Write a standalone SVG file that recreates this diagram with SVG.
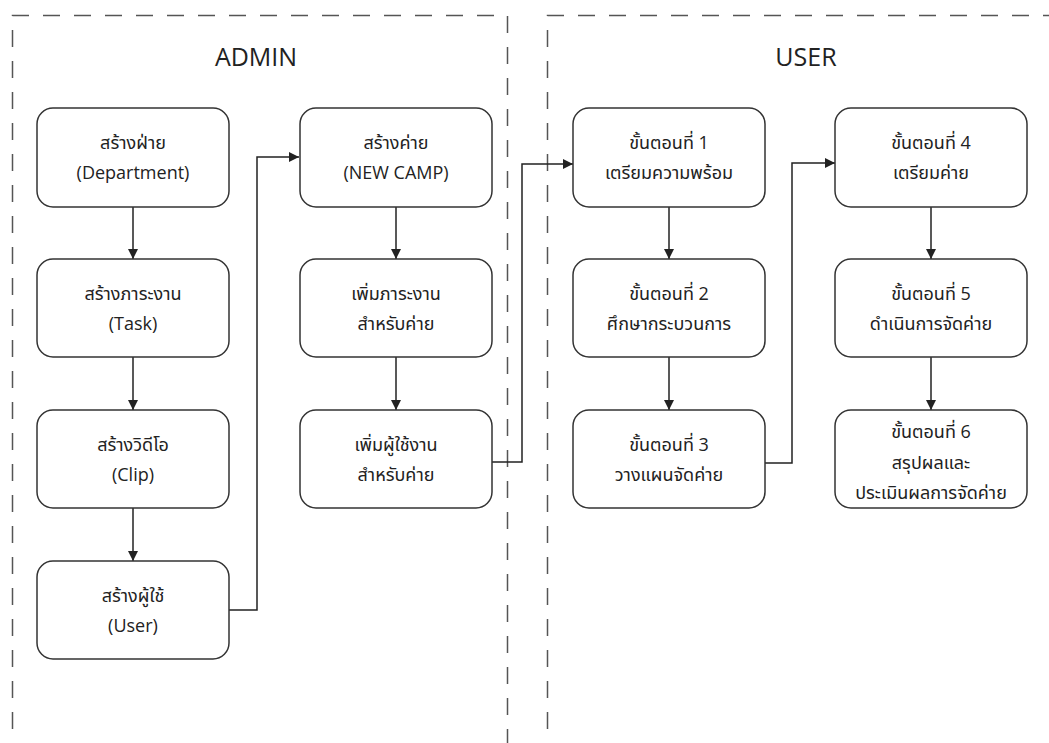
<svg xmlns="http://www.w3.org/2000/svg" width="1049" height="743" viewBox="0 0 1049 743">
<style>
.lane{fill:none;stroke:#555;stroke-width:1.5;stroke-dasharray:17 14}
.title{font-family:"Open Sans","Noto Sans",sans-serif;font-size:25px;fill:#222;text-anchor:middle}
.box{fill:#fff;stroke:#333;stroke-width:1.5}
.lbl{font-family:"Open Sans","Noto Sans","Noto Sans Thai",sans-serif;font-size:18px;fill:#222;text-anchor:middle}
.con{fill:none;stroke:#222;stroke-width:1.5;marker-end:url(#ah)}
</style>
<defs>
<marker id="ah" viewBox="0 0 10 10" refX="10" refY="5" markerWidth="11" markerHeight="10" markerUnits="userSpaceOnUse" orient="auto">
<path d="M0,0 L10,5 L0,10 Z" fill="#222"/>
</marker>
</defs>
<rect width="1049" height="743" fill="#fff"/>
<g id="lane-admin">
<path class="lane" d="M12.5,760 V15.5 H507.5 V760"/>
<text class="title" x="256" y="66">ADMIN</text>
</g>
<g id="lane-user">
<path class="lane" d="M547.5,760 V15.5 H1060"/>
<text class="title" x="806" y="66">USER</text>
</g>
<g id="connectors">
<path class="con" d="M133,207 V259"/>
<path class="con" d="M133,357 V410"/>
<path class="con" d="M133,508 V561"/>
<path class="con" d="M229,610 H257 V157 H299"/>
<path class="con" d="M396,207 V259"/>
<path class="con" d="M396,357 V410"/>
<path class="con" d="M492,462 H522 V164 H573"/>
<path class="con" d="M669,207 V259"/>
<path class="con" d="M669,357 V410"/>
<path class="con" d="M765,463 H792 V163 H835"/>
<path class="con" d="M931,207 V259"/>
<path class="con" d="M931,357 V410"/>
</g>
<g id="n-department">
<rect class="box" x="37" y="108" width="192" height="99" rx="16"/>
<text class="lbl" x="133" y="149">สร้างฝ่าย</text>
<text class="lbl" x="133" y="179">(Department)</text>
</g>
<g id="n-task">
<rect class="box" x="37" y="259" width="192" height="98" rx="16"/>
<text class="lbl" x="133" y="300">สร้างภาระงาน</text>
<text class="lbl" x="133" y="330">(Task)</text>
</g>
<g id="n-clip">
<rect class="box" x="37" y="410" width="192" height="98" rx="16"/>
<text class="lbl" x="133" y="451">สร้างวิดีโอ</text>
<text class="lbl" x="133" y="481">(Clip)</text>
</g>
<g id="n-user">
<rect class="box" x="37" y="561" width="192" height="98" rx="16"/>
<text class="lbl" x="133" y="602">สร้างผู้ใช้</text>
<text class="lbl" x="133" y="632">(User)</text>
</g>
<g id="n-newcamp">
<rect class="box" x="300" y="108" width="192" height="99" rx="16"/>
<text class="lbl" x="396" y="149">สร้างค่าย</text>
<text class="lbl" x="396" y="179">(NEW CAMP)</text>
</g>
<g id="n-addtask">
<rect class="box" x="300" y="259" width="192" height="98" rx="16"/>
<text class="lbl" x="396" y="300">เพิ่มภาระงาน</text>
<text class="lbl" x="396" y="330">สำหรับค่าย</text>
</g>
<g id="n-adduser">
<rect class="box" x="300" y="410" width="192" height="98" rx="16"/>
<text class="lbl" x="396" y="451">เพิ่มผู้ใช้งาน</text>
<text class="lbl" x="396" y="481">สำหรับค่าย</text>
</g>
<g id="n-step1">
<rect class="box" x="573" y="108" width="192" height="99" rx="16"/>
<text class="lbl" x="669" y="149">ขั้นตอนที่ 1</text>
<text class="lbl" x="669" y="179">เตรียมความพร้อม</text>
</g>
<g id="n-step2">
<rect class="box" x="573" y="259" width="192" height="98" rx="16"/>
<text class="lbl" x="669" y="300">ขั้นตอนที่ 2</text>
<text class="lbl" x="669" y="330">ศึกษากระบวนการ</text>
</g>
<g id="n-step3">
<rect class="box" x="573" y="410" width="192" height="98" rx="16"/>
<text class="lbl" x="669" y="451">ขั้นตอนที่ 3</text>
<text class="lbl" x="669" y="481">วางแผนจัดค่าย</text>
</g>
<g id="n-step4">
<rect class="box" x="835" y="108" width="192" height="99" rx="16"/>
<text class="lbl" x="931" y="149">ขั้นตอนที่ 4</text>
<text class="lbl" x="931" y="179">เตรียมค่าย</text>
</g>
<g id="n-step5">
<rect class="box" x="835" y="259" width="192" height="98" rx="16"/>
<text class="lbl" x="931" y="300">ขั้นตอนที่ 5</text>
<text class="lbl" x="931" y="330">ดำเนินการจัดค่าย</text>
</g>
<g id="n-step6">
<rect class="box" x="835" y="410" width="192" height="98" rx="16"/>
<text class="lbl" x="931" y="438">ขั้นตอนที่ 6</text>
<text class="lbl" x="931" y="469">สรุปผลและ</text>
<text class="lbl" x="931" y="499">ประเมินผลการจัดค่าย</text>
</g>
</svg>
